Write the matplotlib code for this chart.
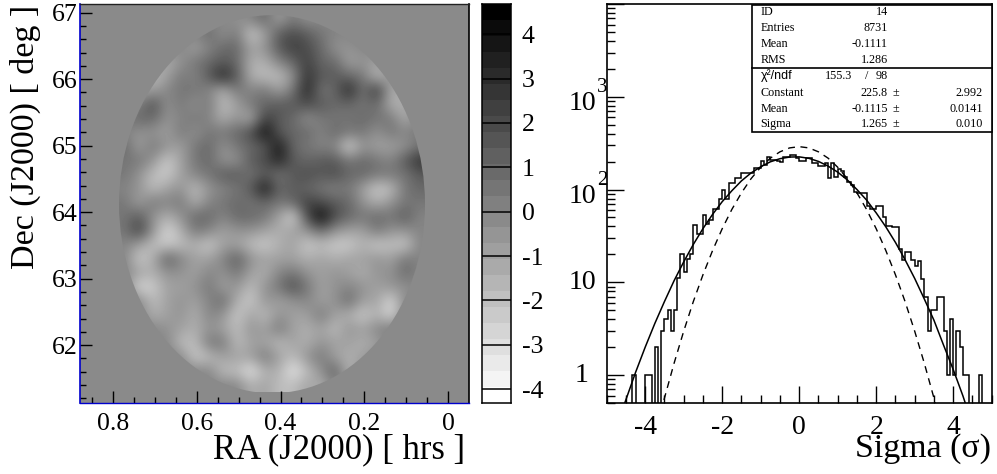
"""
Sky map and significance distribution panel, redrawn with matplotlib.
Run: python plot.py
Output: out.png
"""

import matplotlib

matplotlib.use("Agg")

import matplotlib.pyplot as plt
import numpy as np
from matplotlib.colors import BoundaryNorm, Normalize
from matplotlib.patches import Ellipse, Rectangle
from matplotlib.ticker import FixedLocator, LogLocator, MultipleLocator, NullFormatter

plt.rcParams["font.family"] = ["Liberation Serif", "DejaVu Serif"]
plt.rcParams["axes.unicode_minus"] = False

# coarse reading of the sky map, rows north to south, columns RA high to low
map_values = [
    [0, 0, 0, 0, 0, 0, 0, 0, -0.5, 0, 1, -1, 0.5, -0.5, 0, 0, 0, 0, 0, 0, 0, 0],
    [0, 0, 0, 0, 0, 0, 1, -0.5, 0.5, -2.5, -1, 1.5, 2, 1.5, 0.5, 0, 0, 0, 0, 0, 0, 0],
    [0, 0, 0, 0, 0, -1, 0, 1, 1, -1, -0.5, 1.5, 2.5, 2, 1, -0.5, -0.5, 0, 0, 0, 0, 0],
    [0, 0, 0, -1.5, -0.5, 0.5, 1, 1.5, 1, -1.5, -1.5, 0, 1, 2.5, 1, 1, -1, -0.5, -1, 0, 0, 0],
    [0, 0, -2, -1, 0.5, 0, 1.5, 3.5, 1.5, -1.5, -2, -2, -0.5, 3, 1.5, 1.5, 1, 0.5, -2, -0.5, 0, 0],
    [0, -1, -1, 0, 0.5, 0.5, 0, -1.5, 0.5, 0, 0.5, -1, 0.5, 3.5, 0.5, 1, 3.5, 0.5, 3, -1.5, -1, 0],
    [0, 0, 2, -0.5, 0.5, -0.5, 0.5, -2, -1, 0.5, 1, 1.5, 1.5, 2, 1.5, 1, 1, 0.5, 1, -1.5, -1.5, 0],
    [0.5, 1, 1, -0.5, 0, 0.5, 0, -1.5, -0.5, -1.5, 2.5, 1.5, 1, -0.5, 0.5, 0.5, 0.5, 1, 0.5, 0.5, -1.5, 0],
    [0, -0.5, -0.5, -1, 0.5, -0.5, 0.5, 0.5, 1, 2, 4.3, 1.5, 1, 1, 0, 1, 0.5, 0.5, -0.5, 0.5, 0, 0.5],
    [1, -1, 0.5, -0.5, -1, 0.5, 1, -0.5, 0.5, 1, 1.5, 4, 1, 0.5, 0, 0, -3, -0.5, -1, -1, -0.5, 0.5],
    [0.5, 0.5, -0.5, -2.5, -1, 0.5, 1, -0.5, -0.5, 1.5, 2, 3.5, 1.5, 1, 1.5, 1.5, 0.5, 1, 0.5, 0, 1.5, 3],
    [0.5, -0.5, -2, -2.5, -1, 0, 0.5, 1.5, 1.5, 0.5, 1.5, 0.5, 1.5, 2, 1.5, 2, 1, 1, 0.5, 0.5, 0.5, 1.5],
    [0, -0.5, -2, -1, -0.5, -2, -0.5, 0, 0.5, 1.5, 4, 1, 1.5, 1, 0.5, 0, 0.5, -1, -2.5, -2, 0.5, 1],
    [0.5, -1, 0.5, 0, 0.5, -1.5, 0, 0.5, 1, 0.5, 1, 0.5, 1, 2.5, 2, 1.5, 1, -0.5, -1.5, -0.5, 0.5, 0.5],
    [0.5, 1.5, -0.5, -1.5, -0.5, 1, 1, 0, 1, 1, 0.5, -1, -3, 2, 4.5, 2, 1, 0.5, 1, 0.5, 1.5, 0],
    [0.5, 2.5, -0.5, -3, -1.5, 0.5, 0, -1, -0.5, -0.5, -1, -1.5, -1, -0.5, 1, -0.5, -1, -1, 0.5, -0.5, -0.5, 0],
    [0, -1, -2, -2.5, -2, -1.5, -2.5, -1, -1, -2, -2.5, -1.5, -1, -2.5, -2, -2.5, -2.5, -1.5, -2.5, -2, -2.5, 0],
    [0, -2.5, -1.5, 1.5, 0, -1, -1, 0, 1.5, -0.5, -1, -1, -1, -1.5, -1, -1.5, -1, -1, -0.5, -1, 0.5, 0],
    [0, -1, -1.5, -0.5, -0.5, -1, 0, -0.5, 0.5, -1, -1.5, 0, 0.5, -0.5, -1, -0.5, -1, -1.5, -0.5, -0.5, 1, 0],
    [0, -3, -2.5, -1, -1, -0.5, 0.5, -1, -0.5, -2, -0.5, 0.5, 2, 0.5, -1, -0.5, 0, -0.5, -1, -0.5, -0.5, 0],
    [0, 0, -2, -1, -0.5, -1, 0, 1, -1.5, -2.5, -0.5, -1, -0.5, 0, -1, -0.5, 1, -1, -1, -3, 0, 0],
    [0, 0, -1.5, -1, -0.5, -1.5, 0, -0.5, -2.5, -1, -2, -0.5, -1, -1, 0.5, -1, -1.5, -2.5, -1.5, -3, 0, 0],
    [0, 0, 0, -0.5, -1, -1.5, -0.5, -1, -2, -0.5, -1, 0.5, -1, -1.5, -1, -2, -0.5, -1, 0, 0.5, 0, 0],
    [0, 0, 0, 0, -2, -2, 0.5, 0.5, -2, -1, -1, -2, -1, -1.5, -0.5, -1, -1, -1.5, -1, 0, 0, 0],
    [0, 0, 0, 0, 0, -2.5, -2, -1, -1, -1, 0.5, -1, -2, -0.5, 0.5, -1, -1.5, -1, 0, 0, 0, 0],
    [0, 0, 0, 0, 0, 0, 0, -2, -2, -3.5, -1.5, -1.5, -3.5, -2, -0.5, 1.5, -2, 0, 0, 0, 0, 0],
    [0, 0, 0, 0, 0, 0, 0, 0, 0, -1.5, -1, -2, -2, -1, -1.5, 0, 0, 0, 0, 0, 0, 0],
]

ra_ticks = [0.8, 0.6, 0.4, 0.2, 0]
ra_labels = ["0.8", "0.6", "0.4", "0.2", "0"]
dec_ticks = [62, 63, 64, 65, 66, 67]
bar_ticks = [-4, -3, -2, -1, 0, 1, 2, 3, 4]

# counts in the 120 histogram bins between -5 and 5
hist_counts = [
    0, 0, 0, 0, 0, 0, 0, 0, 1, 0,
    0, 0, 1, 1, 0, 2, 0, 3, 4, 5,
    3, 5, 11, 20, 13, 18, 20, 41, 33, 33,
    53, 42, 47, 62, 62, 80, 100, 80, 117, 117,
    133, 133, 150, 150, 152, 152, 170, 170, 205, 184,
    226, 209, 209, 205, 200, 226, 226, 235, 235, 220,
    205, 205, 220, 220, 192, 192, 181, 181, 192, 134,
    192, 138, 166, 160, 135, 120, 112, 95, 91, 91,
    91, 66, 62, 62, 66, 66, 51, 40, 40, 39,
    39, 23, 17.5, 21, 21, 17.5, 15, 17, 10.8, 7,
    3, 5, 5, 7, 7, 3, 1, 4, 1, 3,
    2, 1, 1, 0, 0, 0, 1, 0, 0, 0,
]

fit_x = [-4.6, -4.25, -4, -3.75, -3.5, -3.25, -3, -2.75, -2.5, -2.25, -2, -1.75, -1.5,
         -1.25, -1, -0.75, -0.5, -0.25, 0, 0.25, 0.5, 0.75, 1, 1.25, 1.5, 1.75, 2,
         2.25, 2.5, 2.75, 3, 3.25, 3.5, 3.75, 4, 4.25, 4.4]
fit_y = [0.415, 1.07, 2.0, 3.6, 6.2, 10.4, 16.6, 25.6, 37.9, 54, 74, 97, 124,
         151, 176, 199, 215, 224, 225, 217, 201, 179, 154, 127, 100, 77, 56,
         39.6, 26.9, 17.5, 11, 6.6, 3.9, 2.1, 1.15, 0.6, 0.39]

unit_x = [-3.6, -3.25, -3, -2.75, -2.5, -2.25, -2, -1.75, -1.5, -1.25, -1, -0.75, -0.5, -0.25,
          0, 0.25, 0.5, 0.75, 1, 1.25, 1.5, 1.75, 2, 2.25, 2.5, 2.75, 3, 3.25, 3.6]
unit_y = [0.4, 1.34, 2.97, 6.2, 12.05, 22, 37.8, 61, 92, 131, 174, 218, 255, 281,
          290, 281, 255, 218, 174, 131, 92, 61, 37.8, 22, 12.05, 6.2, 2.97, 1.34, 0.4]

stats_upper = [("ID", "14"), ("Entries", "8731"), ("Mean", "-0.1111"), ("RMS", "1.286")]
stats_fit = [("Constant", "225.8", "2.992"), ("Mean", "-0.1115", "0.0141"), ("Sigma", "1.265", "0.010")]

W, H = 997, 474


def px(x, y):
    return x / W, 1 - y / H


def panel(x0, y0, x1, y1):
    return fig.add_axes([x0 / W, 1 - y1 / H, (x1 - x0) / W, (y1 - y0) / H])


fig = plt.figure(figsize=(W / 100, H / 100), dpi=100)

# grey scale shared by map and bar
edges = np.linspace(-4.31, 4.68, 26)
cmap = plt.get_cmap("gray_r", 25)
norm = BoundaryNorm(edges, 25)

# sky map
ax1 = panel(80, 4, 468.5, 403)
ax1.set_facecolor(cmap(norm(0)))
im = ax1.imshow(
    np.array(map_values),
    extent=(0.788, 0.0525, 61.29, 66.98),
    origin="upper",
    aspect="auto",
    cmap="gray_r",
    norm=Normalize(-4.31, 4.68),
    interpolation="bicubic",
    interpolation_stage="data",
)
im.set_clip_path(Ellipse((0.4203, 64.12), 0.7308, 5.684, transform=ax1.transData))
ax1.set_xlim(0.879, -0.049)
ax1.set_ylim(61.13, 67.13)
ax1.set_xticks(ra_ticks, ra_labels)
ax1.set_yticks(dec_ticks)
ax1.xaxis.set_minor_locator(MultipleLocator(0.05))
ax1.yaxis.set_minor_locator(MultipleLocator(0.2))
ax1.tick_params(which="major", direction="in", length=8.6, width=1, labelsize=18.5)
ax1.tick_params(which="minor", direction="in", length=4.3, width=1)
ax1.tick_params(axis="x", which="major", pad=7)
ax1.tick_params(axis="y", which="major", pad=2)
for side, color, lw in [("left", "#0000cc", 1.2), ("bottom", "#0000cc", 1), ("top", "#222222", 1), ("right", "black", 1.2)]:
    ax1.spines[side].set_color(color)
    ax1.spines[side].set_linewidth(lw)
fig.text(*px(465, 450), "RA (J2000) [ hrs ]", ha="right", va="center", fontsize=24.9)
fig.text(*px(25, 137), "Dec (J2000) [ deg ]", ha="center", va="center", rotation=90, fontsize=24.5)

# grey bar
ax2 = panel(481.5, 4, 510.5, 403)
centers = (edges[:-1] + edges[1:]) / 2
ax2.pcolormesh([0, 1], edges, centers.reshape(-1, 1), cmap=cmap, norm=norm)
ax2.set_xticks([])
ax2.yaxis.tick_right()
ax2.set_yticks(bar_ticks)
ax2.tick_params(axis="y", direction="in", length=21, width=1.1, labelsize=18.5, pad=8)
for spine in ax2.spines.values():
    spine.set_linewidth(1.1)

# sigma distribution
ax3 = panel(606.7, 4, 991.7, 403)
ax3.stairs(np.maximum(hist_counts, 0.01), np.linspace(-5, 5, 121), color="black", lw=1.1, baseline=None)
ax3.plot(fit_x, fit_y, color="black", lw=1.1)
ax3.plot(unit_x, unit_y, color="black", lw=1, dashes=(5, 4))
ax3.set_yscale("log")
ax3.set_xlim(-5, 5)
ax3.set_ylim(0.5, 10000)
ax3.set_xticks([-4, -2, 0, 2, 4])
ax3.xaxis.set_minor_locator(MultipleLocator(0.5))
ax3.yaxis.set_major_locator(FixedLocator([1, 10, 100, 1000, 10000]))
ax3.yaxis.set_minor_locator(LogLocator(base=10, subs=range(2, 10), numticks=12))
ax3.yaxis.set_major_formatter(NullFormatter())
ax3.yaxis.set_minor_formatter(NullFormatter())
ax3.tick_params(which="major", direction="in", length=12.2, width=1, labelsize=20)
ax3.tick_params(which="minor", direction="in", length=6, width=1)
ax3.tick_params(axis="x", which="major", pad=9)
for spine in ax3.spines.values():
    spine.set_linewidth(1.2)

# decade labels sit partly over the axis line
decade_y = ax3.get_yaxis_transform()
to_axes = lambda x: (x - 606.7) / 385
ax3.text(to_axes(588), 1, "1", transform=decade_y, ha="right", va="center", fontsize=20, clip_on=False)
ax3.text(to_axes(596), 10, "10", transform=decade_y, ha="right", va="center", fontsize=20, clip_on=False)
for value, power in [(100, "2"), (1000, "3")]:
    ax3.text(to_axes(596), value * 0.85, "10", transform=decade_y, ha="right", va="center", fontsize=20, clip_on=False)
    ax3.text(to_axes(597), value * 1.25, power, transform=decade_y, ha="left", va="center", fontsize=15, clip_on=False)
fig.text(*px(991, 449), "Sigma (σ)", ha="right", va="center", fontsize=24.4)

# stats box
x0, y0 = px(752.3, 131.5)
x1, y1 = px(991.7, 4.5)
fig.add_artist(Rectangle((x0, y0), x1 - x0, y1 - y0, transform=fig.transFigure, fc="white", ec="black", lw=1.2, zorder=5))
sep_y = px(0, 67.7)[1]
fig.add_artist(plt.Line2D([x0, x1], [sep_y, sep_y], transform=fig.transFigure, color="black", lw=1.2, zorder=6))


def stat(x, y, s, ha="left", **kw):
    fig.text(*px(x, y), s, ha=ha, va="center", fontsize=kw.pop("fontsize", 8.7), zorder=7, **kw)


for y, (name, val) in zip([12, 28, 44, 60], stats_upper):
    stat(760.7, y, name)
    stat(888, y, val, ha="right")
stat(760.7, 76, "χ²/ndf", family=["Liberation Sans", "DejaVu Sans"], fontsize=9)
stat(851.7, 76, "155.3", ha="right")
stat(867, 76, "/", ha="center")
stat(888, 76, "98", ha="right")
for y, (name, val, err) in zip([93, 109, 124], stats_fit):
    stat(760.7, y, name)
    stat(888, y, val, ha="right")
    stat(896, y, "±", ha="center")
    stat(982.7, y, err, ha="right")

fig.savefig("out.png", dpi=100)
plt.close(fig)
